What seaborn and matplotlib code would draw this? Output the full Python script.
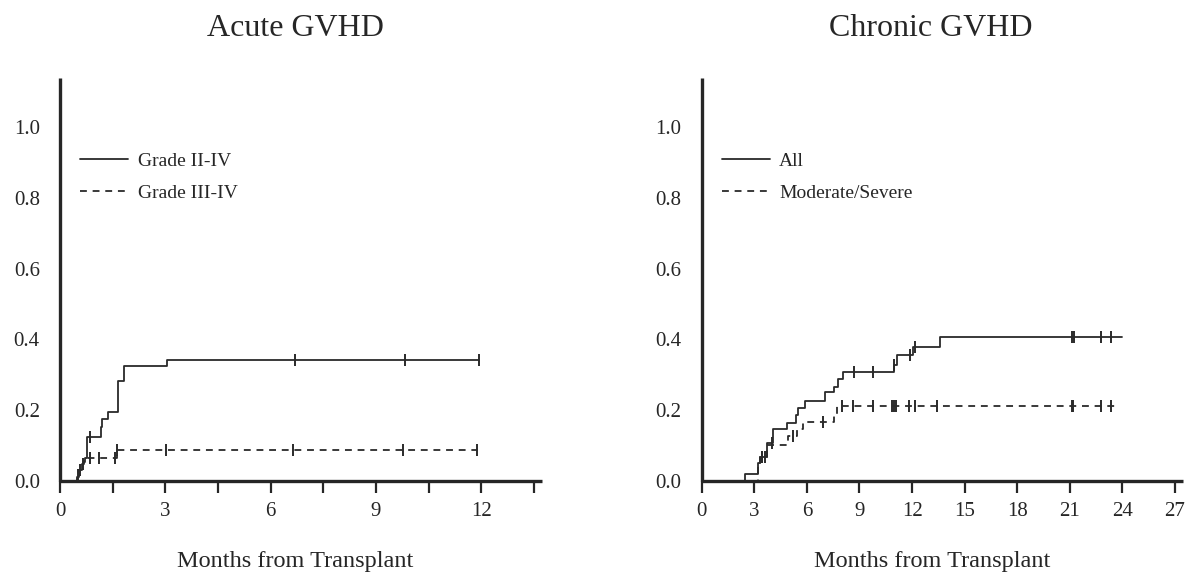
import numpy as np
import pandas as pd
import matplotlib
matplotlib.use("Agg")
import matplotlib.pyplot as plt
import seaborn as sns
from matplotlib.lines import Line2D
from matplotlib.ticker import MultipleLocator

# ---------------- data ----------------
# Acute GVHD, Grade II-IV (cumulative incidence, step function)
acute_24_times = [0, 0.47, 0.55, 0.62, 0.66, 0.71, 0.76, 1.16, 1.21, 1.38, 1.66, 1.82, 3.04, 11.92]
acute_24_vals = [0, 0.012, 0.031, 0.045, 0.054, 0.064, 0.125, 0.153, 0.174, 0.195, 0.283, 0.324, 0.343, 0.343]
acute_24_censor = [0.85, 6.70, 9.82, 11.92]

# Acute GVHD, Grade III-IV
acute_34_times = [0, 0.47, 0.55, 0.62, 0.68, 1.62, 11.89]
acute_34_vals = [0, 0.016, 0.032, 0.048, 0.064, 0.087, 0.087]
acute_34_censor = [0.52, 0.58, 0.65, 0.85, 1.11, 1.57, 1.62, 3.01, 6.64, 9.76, 11.89]

# Chronic GVHD, All
chronic_all_times = [0, 2.47, 3.23, 3.33, 3.74, 4.05, 4.85, 5.38, 5.51, 5.89, 7.03, 7.55,
                     7.79, 8.04, 10.97, 11.12, 12.04, 13.59, 23.96]
chronic_all_vals = [0, 0.020, 0.050, 0.069, 0.106, 0.146, 0.164, 0.186, 0.206, 0.226, 0.252,
                    0.266, 0.289, 0.308, 0.327, 0.355, 0.378, 0.408, 0.408]
chronic_all_censor = [3.42, 3.99, 8.71, 9.79, 10.97, 11.88, 12.17, 21.11, 21.24, 22.76, 23.33]

# Chronic GVHD, Moderate/Severe
chronic_ms_times = [0, 3.23, 3.33, 3.74, 4.94, 5.42, 5.80, 7.55, 7.70, 23.76]
chronic_ms_vals = [0, 0.050, 0.069, 0.103, 0.128, 0.146, 0.167, 0.186, 0.211, 0.211]
chronic_ms_censor = [3.42, 3.61, 5.23, 6.94, 7.99, 8.61, 9.79, 10.84, 10.97, 11.08, 11.85,
                     12.14, 13.42, 21.11, 21.20, 22.78, 23.33]

titles = ["Acute GVHD", "Chronic GVHD"]
x_label = "Months from Transplant"
acute_labels = ["Grade II-IV", "Grade III-IV"]
chronic_labels = ["All", "Moderate/Severe"]
y_ticks = [0.0, 0.2, 0.4, 0.6, 0.8, 1.0]
acute_xticks = [0, 3, 6, 9, 12]
chronic_xticks = [0, 3, 6, 9, 12, 15, 18, 21, 24, 27]

# ---------------- style ----------------
sns.set_theme(style="white")
plt.rcParams["font.family"] = ["Liberation Serif", "DejaVu Serif"]
INK = "#262626"
LINE = "#2a2a2a"
plt.rcParams["text.color"] = INK
plt.rcParams["axes.labelcolor"] = INK
plt.rcParams["xtick.color"] = INK
plt.rcParams["ytick.color"] = INK

W, H = 1195, 576
fig = plt.figure(figsize=(W / 100, H / 100), dpi=100)

ax_l = fig.add_axes([60 / W, 1 - 481 / H, (541.7 - 60) / W, (481 - 77.7) / H])
ax_r = fig.add_axes([701.7 / W, 1 - 481 / H, (1182.7 - 701.7) / W, (481 - 77.7) / H])

DASH = (0, (3.8, 3.2))
LW = 1.3


def step_at(times, vals, t):
    times = np.asarray(times)
    idx = np.searchsorted(times, t, side="right") - 1
    return np.asarray(vals)[np.clip(idx, 0, len(vals) - 1)]


def draw_curve(ax, times, vals, censor, ls):
    df = pd.DataFrame({"t": times, "v": vals})
    sns.lineplot(data=df, x="t", y="v", ax=ax, drawstyle="steps-post", color=LINE,
                 linewidth=LW, linestyle=ls, estimator=None, sort=False, legend=False)
    cdf = pd.DataFrame({"t": censor, "v": step_at(times, vals, np.asarray(censor))})
    sns.scatterplot(data=cdf, x="t", y="v", ax=ax, marker="|", s=64, linewidth=1.4,
                    color=LINE, legend=False, zorder=3)


draw_curve(ax_l, acute_24_times, acute_24_vals, acute_24_censor, "-")
draw_curve(ax_l, acute_34_times, acute_34_vals, acute_34_censor, DASH)
draw_curve(ax_r, chronic_all_times, chronic_all_vals, chronic_all_censor, "-")
draw_curve(ax_r, chronic_ms_times, chronic_ms_vals, chronic_ms_censor, DASH)

for ax, xmax, xt, labels in [(ax_l, 13.72, acute_xticks, acute_labels),
                             (ax_r, 27.44, chronic_xticks, chronic_labels)]:
    ax.set_xlim(0, xmax)
    ax.set_ylim(0, 1.139)
    ax.set_xlabel("")
    ax.set_ylabel("")
    for s in ["top", "right"]:
        ax.spines[s].set_visible(False)
    for s in ["left", "bottom"]:
        ax.spines[s].set_linewidth(2.4)
        ax.spines[s].set_color(INK)
        ax.spines[s].set_capstyle("butt")
    ax.set_xticks(xt)
    ax.set_xticklabels([str(v) for v in xt])
    ax.set_yticks(y_ticks)
    ax.set_yticklabels([f"{v:.1f}" for v in y_ticks])
    ax.tick_params(axis="x", which="both", direction="out", length=8.5, width=1.6,
                   pad=6.5, labelsize=15, color=INK, bottom=True)
    ax.tick_params(axis="y", length=0, pad=14.5, labelsize=15, left=True)
    ax.grid(False)
    handles = [Line2D([], [], color=LINE, lw=LW, ls="-"),
               Line2D([], [], color=LINE, lw=LW, ls=DASH)]
    leg = ax.legend(handles, labels, loc="upper left", bbox_to_anchor=(0.042, 0.816),
                    frameon=False, fontsize=14, handlelength=2.45, handletextpad=0.5,
                    labelspacing=0.78, borderaxespad=0, borderpad=0)

ax_l.xaxis.set_minor_locator(MultipleLocator(1.5))

fig.text(295 / W, 1 - 36 / H, titles[0], ha="center", va="baseline", fontsize=23)
fig.text(931 / W, 1 - 36 / H, titles[1], ha="center", va="baseline", fontsize=23)
fig.text(295 / W, 1 - 567 / H, x_label, ha="center", va="baseline", fontsize=17.5)
fig.text(932 / W, 1 - 567 / H, x_label, ha="center", va="baseline", fontsize=17.5)

fig.savefig("out.png", dpi=100, facecolor="white")
